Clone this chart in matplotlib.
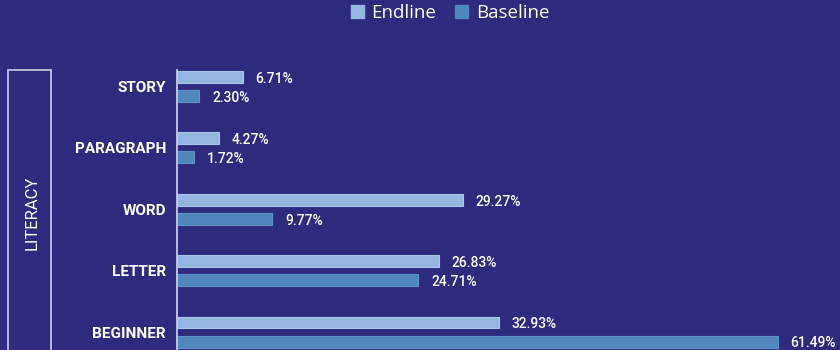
import matplotlib.pyplot as plt
from matplotlib.patches import Rectangle, Patch

# dados
categorias = ["BEGINNER", "LETTER", "WORD", "PARAGRAPH", "STORY"]
endline = [32.93, 26.83, 29.27, 4.27, 6.71]
baseline = [61.49, 24.71, 9.77, 1.72, 2.30]

fundo = "#2E2A7E"
cor_end = "#95B7DF"
cor_base = "#4F86BE"

plt.rcParams['font.family'] = ['Roboto', 'DejaVu Sans']

fig = plt.figure(figsize=(8.4, 3.5), dpi=100, facecolor=fundo)
ax = fig.add_axes([177 / 840, 0, (800 - 177) / 840, 0.8])
ax.set_facecolor(fundo)

pos = list(range(len(categorias)))
alt = 0.195
desloc = 0.155

ax.barh([p + desloc for p in pos], endline, height=alt, color=cor_end,
        edgecolor="#A9C6E8", linewidth=0.8, label="Endline")
ax.barh([p - desloc for p in pos], baseline, height=alt, color=cor_base,
        edgecolor="#5E93C8", linewidth=0.8, label="Baseline")

for p, v in zip(pos, endline):
    ax.text(v + 1.3, p + desloc - 0.03, f"{v:.2f}%", color="white",
            fontsize=10, fontweight="medium", va="center", ha="left")
for p, v in zip(pos, baseline):
    ax.text(v + 1.3, p - desloc - 0.03, f"{v:.2f}%", color="white",
            fontsize=10, fontweight="medium", va="center", ha="left")

ax.set_xlim(0, (800 - 177) / 9.77)
ax.set_ylim(-0.293, 4.269)
ax.set_yticks(pos)
ax.set_yticklabels(categorias, color="white", fontsize=11, fontweight="semibold")
ax.tick_params(axis="y", length=0, pad=8)
ax.set_xticks([])
for lado in ["top", "right", "bottom"]:
    ax.spines[lado].set_visible(False)
ax.spines["left"].set_color("#C9C8EA")
ax.spines["left"].set_linewidth(1.3)

# caixa LITERACY
caixa = Rectangle((8 / 840, -0.05), 43 / 840, (350 - 70) / 350 + 0.05,
                  transform=fig.transFigure, fill=False, edgecolor="#D0D0E8",
                  linewidth=1.2)
fig.patches.append(caixa)
fig.text(32 / 840, 1 - 213 / 350, "LITERACY", rotation=90, color="white",
         fontsize=12, ha="center", va="center")

leg = fig.legend(handles=[Patch(color=cor_end, label="Endline"),
                          Patch(color=cor_base, label="Baseline")],
                 loc="center", bbox_to_anchor=(450 / 840, 1 - 13 / 350),
                 ncol=2, frameon=False, handlelength=0.7,
                 handleheight=0.7, handletextpad=0.4, columnspacing=1.0,
                 prop={"family": ["Open Sans", "DejaVu Sans"], "size": 13.5})
for t in leg.get_texts():
    t.set_color("white")

fig.savefig("out.png", dpi=100, facecolor=fundo)
